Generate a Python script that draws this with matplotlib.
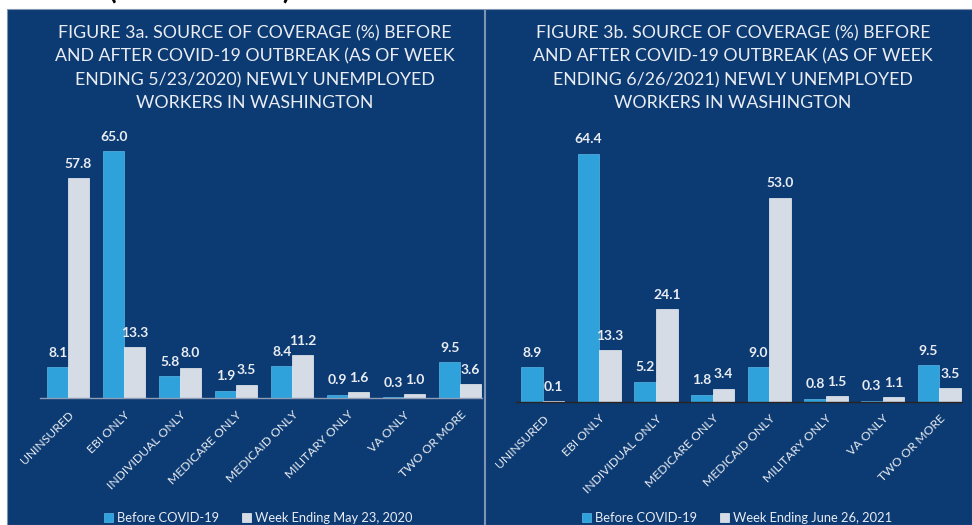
import matplotlib.pyplot as plt
from matplotlib.patches import Rectangle
import numpy as np

plt.rcParams['font.family'] = ['Lato', 'DejaVu Sans']

# Данные
categories = ['UNINSURED', 'EBI ONLY', 'INDIVIDUAL ONLY', 'MEDICARE ONLY',
              'MEDICAID ONLY', 'MILITARY ONLY', 'VA ONLY', 'TWO OR MORE']
before_a = [8.1, 65.0, 5.8, 1.9, 8.4, 0.9, 0.3, 9.5]
after_a = [57.8, 13.3, 8.0, 3.5, 11.2, 1.6, 1.0, 3.6]
before_b = [8.9, 64.4, 5.2, 1.8, 9.0, 0.8, 0.3, 9.5]
after_b = [0.1, 13.3, 24.1, 3.4, 53.0, 1.5, 1.1, 3.5]

title_a = ['FIGURE 3a. SOURCE OF COVERAGE (%) BEFORE',
           'AND AFTER COVID-19 OUTBREAK (AS OF WEEK',
           'ENDING 5/23/2020) NEWLY UNEMPLOYED',
           'WORKERS IN WASHINGTON']
title_b = ['FIGURE 3b. SOURCE OF COVERAGE (%) BEFORE',
           'AND AFTER COVID-19 OUTBREAK (AS OF WEEK',
           'ENDING 6/26/2021) NEWLY UNEMPLOYED',
           'WORKERS IN WASHINGTON']
legend_a = ['Before COVID-19', 'Week Ending May 23, 2020']
legend_b = ['Before COVID-19', 'Week Ending June 26, 2021']

NAVY = '#0C3A72'
BLUE = '#2FA2DC'
GRAY = '#D5DCE6'
TXT = '#E9EDF3'

W, H = 972, 525
fig = plt.figure(figsize=(W / 100, H / 100), dpi=100)
fig.patch.set_facecolor('white')


def px(x0, y_top, x1, y_bot):
    # перевод пикселей в координаты фигуры
    return [x0 / W, 1 - y_bot / H, (x1 - x0) / W, (y_bot - y_top) / H]


# фон панелей
fig.patches.append(Rectangle((7 / W, 0), (484 - 7) / W, 1 - 9 / H,
                             transform=fig.transFigure, facecolor=NAVY,
                             edgecolor='#7F93B3', linewidth=0.8, zorder=0))
fig.patches.append(Rectangle((485 / W, 0), (972 - 485) / W, 1 - 9 / H,
                             transform=fig.transFigure, facecolor=NAVY,
                             edgecolor='#7F93B3', linewidth=0.8, zorder=0))

# обрезанная надпись сверху (в оригинале тоже срезана краем)
fig.text(200 / W, 1 + 1 / H, '(CONTINUED)', ha='center', va='baseline',
         fontsize=20, fontweight='bold', color='black')


def draw_panel(rect, xlim, ylim_top, width, before, after, title, tcx,
               legend, lcx, axis_color):
    ax = fig.add_axes(rect, zorder=2)
    ax.set_facecolor('none')
    x = np.arange(len(categories))
    b1 = ax.bar(x - width / 2, before, width, color=BLUE, edgecolor='#5BB6E6',
                linewidth=0.5, label=legend[0])
    b2 = ax.bar(x + width / 2, after, width, color=GRAY, edgecolor='#EEF1F5',
                linewidth=0.5, label=legend[1])
    for bars, vals in ((b1, before), (b2, after)):
        for bar, v in zip(bars, vals):
            ax.annotate(f'{v:.1f}', (bar.get_x() + bar.get_width() / 2, v),
                        xytext=(0, 6), textcoords='offset points',
                        ha='center', va='bottom', fontsize=10,
                        fontweight='bold', color=TXT)
    ax.set_xlim(*xlim)
    ax.set_ylim(0, ylim_top)
    ax.set_yticks([])
    for s in ['top', 'right', 'left']:
        ax.spines[s].set_visible(False)
    ax.spines['bottom'].set_color(axis_color)
    ax.spines['bottom'].set_linewidth(1)
    ax.set_xticks(x)
    ax.set_xticklabels(categories, rotation=45, ha='right',
                       rotation_mode='anchor', fontsize=8.7, color=TXT)
    ax.tick_params(axis='x', length=0, pad=8)

    for i, line in enumerate(title):
        fig.text(tcx / W, 1 - (33 + i * 23.5) / H, line, ha='center',
                 va='center', fontsize=12.8, color=TXT, zorder=3)

    fig.legend(handles=[b1, b2], loc='center',
               bbox_to_anchor=(lcx / W, 1 - 518 / H), ncol=2,
               frameon=False, fontsize=9.3, handlelength=0.7,
               handleheight=0.7, handletextpad=0.3, columnspacing=1.8,
               labelcolor=TXT).set_zorder(3)
    return ax


draw_panel(px(40, 140, 482, 398), (-0.5, 7.39), 258 / 3.8, 0.37,
           before_a, after_a, title_a, 255, legend_a, 258, '#8E9DB5')
draw_panel(px(516, 140, 962, 401.7), (-0.47, 7.40), 261.7 / 3.85, 0.383,
           before_b, after_b, title_b, 733, legend_b, 737, '#2A2320')

plt.savefig('out.png', dpi=100, facecolor=fig.get_facecolor())
